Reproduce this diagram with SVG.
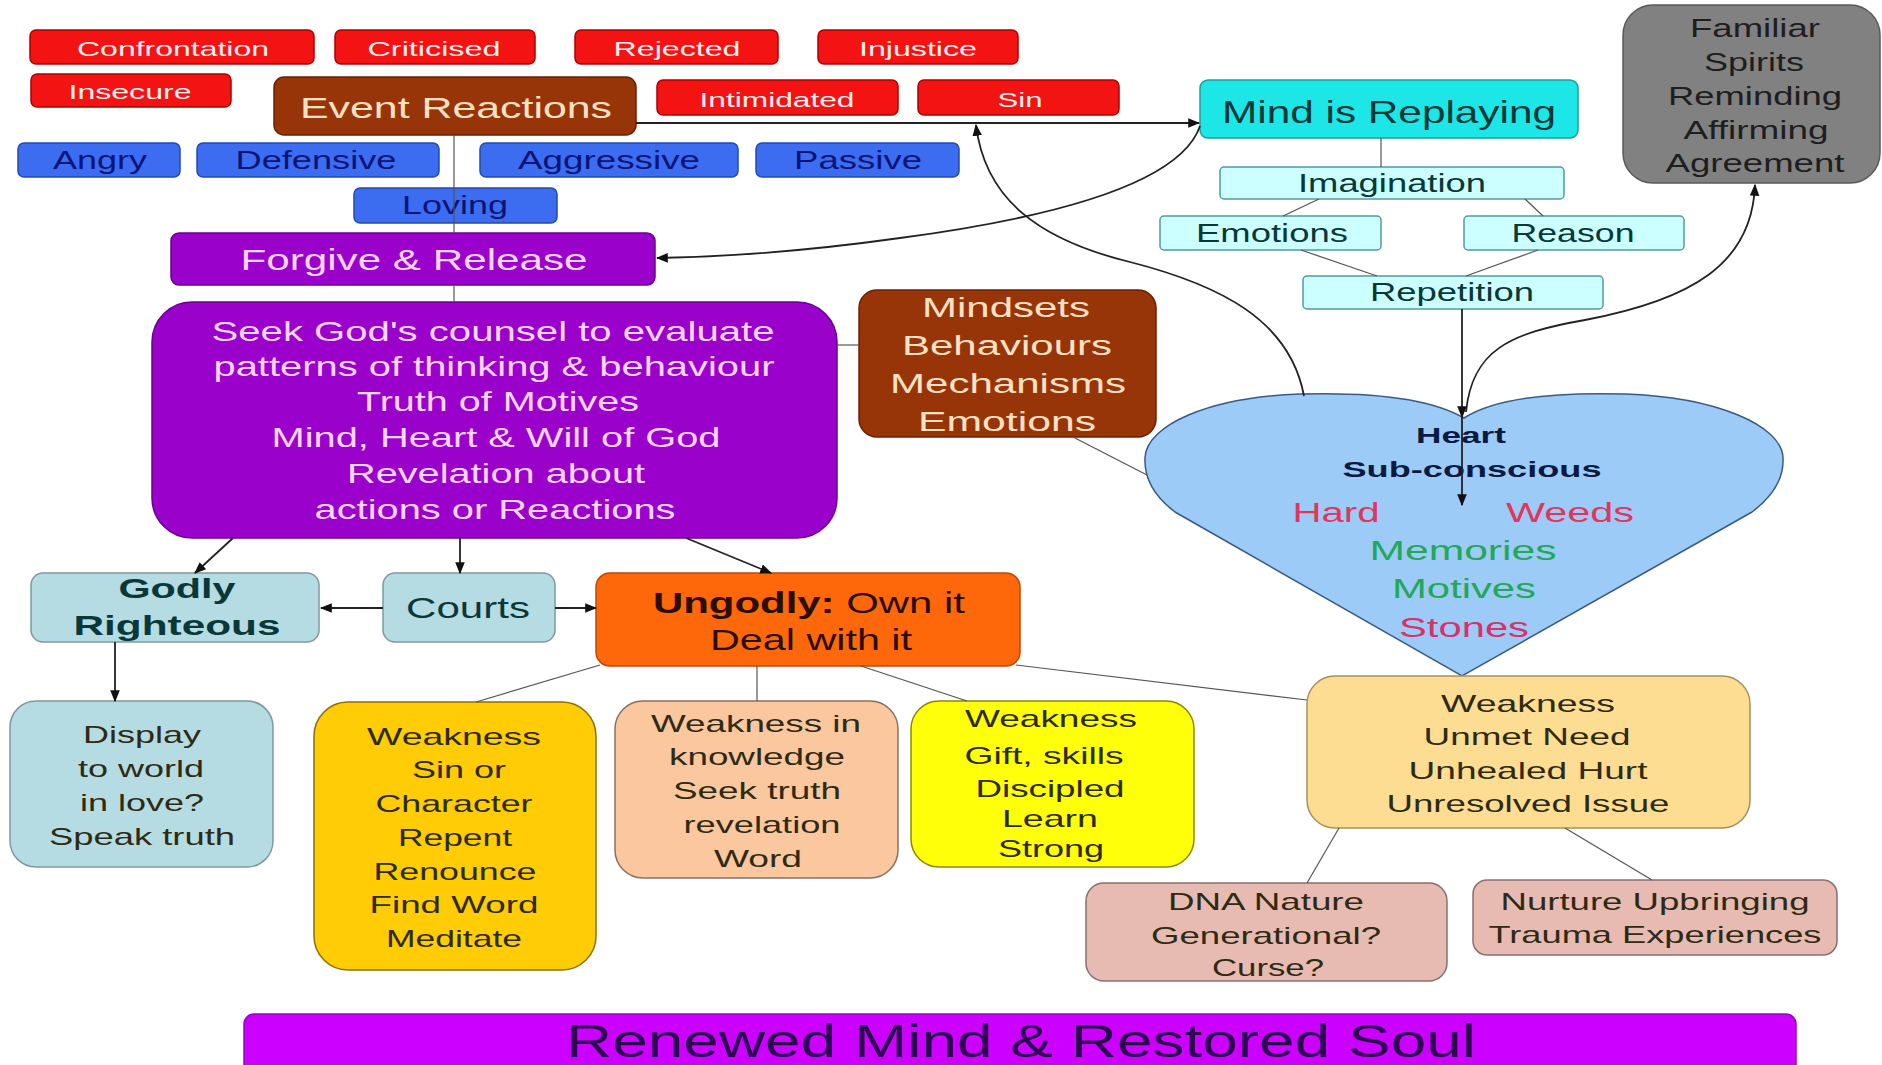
<svg xmlns="http://www.w3.org/2000/svg" width="1882" height="1065" viewBox="0 0 1882 1065">
<style>
text{font-family:"Liberation Sans",Arial,sans-serif;text-anchor:middle}
.r{fill:#F31313;stroke:#B00000;stroke-width:1.5}
.b{fill:#3C6CF0;stroke:#2448B0;stroke-width:1.5}
.p{fill:#9A02CC;stroke:#6A0090;stroke-width:1.5}
.br{fill:#983508;stroke:#6A2000;stroke-width:1.5}
.cy{fill:#1CE6E6;stroke:#18A0A0;stroke-width:1.5}
.lc{fill:#CCFFFF;stroke:#4F9C9C;stroke-width:1.5}
.gr{fill:#818181;stroke:#5A5A5A;stroke-width:1.5}
.tl{fill:#B5DCE2;stroke:#7E9A9E;stroke-width:1.5}
.or{fill:#FF680A;stroke:#C04800;stroke-width:1.5}
.yo{fill:#FFCC05;stroke:#8A7000;stroke-width:1.5}
.pe{fill:#FAC79E;stroke:#8A7060;stroke-width:1.5}
.ye{fill:#FFFF0A;stroke:#8A8A00;stroke-width:1.5}
.cr{fill:#FDDD92;stroke:#A89060;stroke-width:1.5}
.pk{fill:#E7BBB2;stroke:#8A7070;stroke-width:1.5}
.mg{fill:#CC00FF;stroke:#9900CC;stroke-width:1.5}
.hr{fill:#9CCBF7;stroke:#3A5A80;stroke-width:1.5}
.tw{fill:#FFF0F0;font-size:21px}
.tn{fill:#0A1478;font-size:25px}
.tp{fill:#FFD6FF}
.tpe{fill:#FFE2C6}
.tt{fill:#0A3838}
.td{fill:#2E2A14;font-size:24px}
.tk{fill:#1E1E1E}
.c{fill:none;stroke:#222;stroke-width:1.8}
.ct{fill:none;stroke:#555;stroke-width:1.2}
</style>
<defs>
<marker id="ah" viewBox="0 0 10 10" refX="9" refY="5" markerUnits="userSpaceOnUse" markerWidth="12" markerHeight="12" orient="auto"><path d="M0,1 L10,5 L0,9 z" fill="#111"/></marker>
</defs>

<g id="n-confrontation"><rect class="r" x="30" y="30" width="284" height="34" rx="6"/><text class="tw" x="173" y="56" textLength="192" lengthAdjust="spacingAndGlyphs">Confrontation</text></g>
<g id="n-criticised"><rect class="r" x="335" y="30" width="200" height="34" rx="6"/><text class="tw" x="434" y="56" textLength="133" lengthAdjust="spacingAndGlyphs">Criticised</text></g>
<g id="n-rejected"><rect class="r" x="575" y="30" width="203" height="34" rx="6"/><text class="tw" x="677" y="56" textLength="127" lengthAdjust="spacingAndGlyphs">Rejected</text></g>
<g id="n-injustice"><rect class="r" x="818" y="30" width="200" height="34" rx="6"/><text class="tw" x="918" y="56" textLength="118" lengthAdjust="spacingAndGlyphs">Injustice</text></g>
<g id="n-insecure"><rect class="r" x="31" y="74" width="200" height="33" rx="6"/><text class="tw" x="130" y="99" textLength="123" lengthAdjust="spacingAndGlyphs">Insecure</text></g>
<g id="n-intimidated"><rect class="r" x="657" y="80" width="241" height="35" rx="6"/><text class="tw" x="777" y="107" textLength="155" lengthAdjust="spacingAndGlyphs">Intimidated</text></g>
<g id="n-sin"><rect class="r" x="918" y="80" width="201" height="35" rx="6"/><text class="tw" x="1020" y="107" textLength="45" lengthAdjust="spacingAndGlyphs">Sin</text></g>

<g id="n-event-reactions"><rect class="br" x="274" y="77" width="362" height="58" rx="10"/><text class="tpe" x="456" y="118" font-size="29" textLength="312" lengthAdjust="spacingAndGlyphs">Event Reactions</text></g>

<g id="n-angry"><rect class="b" x="18" y="143" width="162" height="34" rx="6"/><text class="tn" x="100" y="169" textLength="94" lengthAdjust="spacingAndGlyphs">Angry</text></g>
<g id="n-defensive"><rect class="b" x="197" y="143" width="242" height="34" rx="6"/><text class="tn" x="316" y="169" textLength="161" lengthAdjust="spacingAndGlyphs">Defensive</text></g>
<g id="n-aggressive"><rect class="b" x="480" y="143" width="258" height="34" rx="6"/><text class="tn" x="609" y="169" textLength="182" lengthAdjust="spacingAndGlyphs">Aggressive</text></g>
<g id="n-passive"><rect class="b" x="756" y="143" width="203" height="34" rx="6"/><text class="tn" x="858" y="169" textLength="128" lengthAdjust="spacingAndGlyphs">Passive</text></g>
<g id="n-loving"><rect class="b" x="354" y="188" width="203" height="35" rx="6"/><text class="tn" x="455" y="214" textLength="106" lengthAdjust="spacingAndGlyphs">Loving</text></g>

<g id="n-forgive"><rect class="p" x="171" y="233" width="484" height="52" rx="8"/><text class="tp" x="414" y="270" font-size="30" textLength="347" lengthAdjust="spacingAndGlyphs">Forgive &amp; Release</text></g>

<g id="n-seek">
<rect class="p" x="152" y="302" width="685" height="236" rx="40"/>
<g class="tp" font-size="28">
<text x="493" y="341" textLength="563" lengthAdjust="spacingAndGlyphs">Seek God's counsel to evaluate</text>
<text x="494" y="376" textLength="561" lengthAdjust="spacingAndGlyphs">patterns of thinking &amp; behaviour</text>
<text x="498" y="411" textLength="282" lengthAdjust="spacingAndGlyphs">Truth of Motives</text>
<text x="496" y="447" textLength="449" lengthAdjust="spacingAndGlyphs">Mind, Heart &amp; Will of God</text>
<text x="496" y="483" textLength="298" lengthAdjust="spacingAndGlyphs">Revelation about</text>
<text x="495" y="519" textLength="361" lengthAdjust="spacingAndGlyphs">actions or Reactions</text>
</g>
</g>

<g id="n-mindsets">
<rect class="br" x="859" y="290" width="297" height="147" rx="18"/>
<g class="tpe" font-size="27">
<text x="1006" y="317" textLength="168" lengthAdjust="spacingAndGlyphs">Mindsets</text>
<text x="1007" y="355" textLength="210" lengthAdjust="spacingAndGlyphs">Behaviours</text>
<text x="1008" y="393" textLength="236" lengthAdjust="spacingAndGlyphs">Mechanisms</text>
<text x="1007" y="431" textLength="178" lengthAdjust="spacingAndGlyphs">Emotions</text>
</g>
</g>

<g id="n-mind-replaying"><rect class="cy" x="1200" y="80" width="378" height="58" rx="8"/><text class="tt" x="1389" y="123" font-size="32" textLength="334" lengthAdjust="spacingAndGlyphs">Mind is Replaying</text></g>
<g id="n-imagination"><rect class="lc" x="1220" y="167" width="344" height="32" rx="4"/><text class="tt" x="1392" y="192" font-size="25" textLength="188" lengthAdjust="spacingAndGlyphs">Imagination</text></g>
<g id="n-emotions"><rect class="lc" x="1160" y="216" width="221" height="34" rx="4"/><text class="tt" x="1272" y="242" font-size="25" textLength="152" lengthAdjust="spacingAndGlyphs">Emotions</text></g>
<g id="n-reason"><rect class="lc" x="1464" y="216" width="220" height="34" rx="4"/><text class="tt" x="1573" y="242" font-size="25" textLength="123" lengthAdjust="spacingAndGlyphs">Reason</text></g>
<g id="n-repetition"><rect class="lc" x="1303" y="276" width="300" height="33" rx="4"/><text class="tt" x="1452" y="301" font-size="25" textLength="164" lengthAdjust="spacingAndGlyphs">Repetition</text></g>

<g id="n-familiar">
<rect class="gr" x="1623" y="5" width="257" height="178" rx="30"/>
<g class="tk" font-size="25">
<text x="1755" y="37" textLength="130" lengthAdjust="spacingAndGlyphs">Familiar</text>
<text x="1754" y="71" textLength="100" lengthAdjust="spacingAndGlyphs">Spirits</text>
<text x="1755" y="105" textLength="174" lengthAdjust="spacingAndGlyphs">Reminding</text>
<text x="1756" y="139" textLength="145" lengthAdjust="spacingAndGlyphs">Affirming</text>
<text x="1755" y="172" textLength="179" lengthAdjust="spacingAndGlyphs">Agreement</text>
</g>
</g>

<g id="n-heart">
<path class="hr" d="M1464,418 C1430,398 1370,392 1300,394 C1210,397 1146,425 1145,458 C1144,480 1155,497 1175,512 L1462,676 L1752,512 C1772,497 1784,480 1783,458 C1782,425 1715,397 1625,394 C1555,392 1495,398 1464,418 Z"/>
<g font-weight="bold" font-size="22" fill="#0A1A40">
<text x="1461" y="443" textLength="90" lengthAdjust="spacingAndGlyphs">Heart</text>
<text x="1472" y="477" textLength="259" lengthAdjust="spacingAndGlyphs">Sub-conscious</text>
</g>
<g font-size="27">
<text x="1336" y="522" fill="#E2355E" textLength="87" lengthAdjust="spacingAndGlyphs">Hard</text>
<text x="1570" y="522" fill="#E2355E" textLength="128" lengthAdjust="spacingAndGlyphs">Weeds</text>
<text x="1463" y="560" fill="#22A857" textLength="187" lengthAdjust="spacingAndGlyphs">Memories</text>
<text x="1464" y="598" fill="#22A857" textLength="144" lengthAdjust="spacingAndGlyphs">Motives</text>
<text x="1464" y="637" fill="#D8306A" textLength="130" lengthAdjust="spacingAndGlyphs">Stones</text>
</g>
</g>

<g id="n-godly"><rect class="tl" x="31" y="573" width="288" height="69" rx="12"/>
<g class="tt" font-size="28" font-weight="bold"><text x="177" y="598" textLength="117" lengthAdjust="spacingAndGlyphs">Godly</text><text x="177" y="635" textLength="207" lengthAdjust="spacingAndGlyphs">Righteous</text></g></g>
<g id="n-courts"><rect class="tl" x="383" y="573" width="172" height="69" rx="12"/><text class="tt" x="468" y="618" font-size="29" textLength="124" lengthAdjust="spacingAndGlyphs">Courts</text></g>
<g id="n-ungodly"><rect class="or" x="596" y="573" width="424" height="93" rx="14"/>
<g fill="#2A0E00" font-size="29">
<text x="809" y="613" textLength="312" lengthAdjust="spacingAndGlyphs"><tspan font-weight="bold">Ungodly:</tspan> Own it</text>
<text x="811" y="650" textLength="202" lengthAdjust="spacingAndGlyphs">Deal with it</text>
</g></g>

<g id="n-display"><rect class="tl" x="10" y="701" width="263" height="166" rx="26"/>
<g class="td">
<text x="142" y="743" textLength="118" lengthAdjust="spacingAndGlyphs">Display</text>
<text x="141" y="777" textLength="126" lengthAdjust="spacingAndGlyphs">to world</text>
<text x="142" y="811" textLength="124" lengthAdjust="spacingAndGlyphs">in love?</text>
<text x="142" y="845" textLength="186" lengthAdjust="spacingAndGlyphs">Speak truth</text>
</g></g>

<g id="n-weakness-sin"><rect class="yo" x="314" y="702" width="282" height="268" rx="34"/>
<g class="td">
<text x="454" y="745" textLength="174" lengthAdjust="spacingAndGlyphs">Weakness</text>
<text x="459" y="778" textLength="94" lengthAdjust="spacingAndGlyphs">Sin or</text>
<text x="454" y="812" textLength="157" lengthAdjust="spacingAndGlyphs">Character</text>
<text x="455" y="846" textLength="114" lengthAdjust="spacingAndGlyphs">Repent</text>
<text x="455" y="880" textLength="163" lengthAdjust="spacingAndGlyphs">Renounce</text>
<text x="454" y="913" textLength="169" lengthAdjust="spacingAndGlyphs">Find Word</text>
<text x="454" y="947" textLength="136" lengthAdjust="spacingAndGlyphs">Meditate</text>
</g></g>

<g id="n-weakness-knowledge"><rect class="pe" x="615" y="701" width="283" height="177" rx="28"/>
<g class="td">
<text x="756" y="732" textLength="210" lengthAdjust="spacingAndGlyphs">Weakness in</text>
<text x="757" y="765" textLength="176" lengthAdjust="spacingAndGlyphs">knowledge</text>
<text x="757" y="799" textLength="168" lengthAdjust="spacingAndGlyphs">Seek truth</text>
<text x="762" y="833" textLength="157" lengthAdjust="spacingAndGlyphs">revelation</text>
<text x="758" y="867" textLength="88" lengthAdjust="spacingAndGlyphs">Word</text>
</g></g>

<g id="n-weakness-gift"><rect class="ye" x="911" y="701" width="283" height="166" rx="28"/>
<g class="td">
<text x="1051" y="727" textLength="172" lengthAdjust="spacingAndGlyphs">Weakness</text>
<text x="1044" y="764" textLength="159" lengthAdjust="spacingAndGlyphs">Gift, skills</text>
<text x="1050" y="797" textLength="149" lengthAdjust="spacingAndGlyphs">Discipled</text>
<text x="1050" y="827" textLength="96" lengthAdjust="spacingAndGlyphs">Learn</text>
<text x="1051" y="857" textLength="106" lengthAdjust="spacingAndGlyphs">Strong</text>
</g></g>

<g id="n-weakness-unmet"><rect class="cr" x="1307" y="676" width="443" height="152" rx="28"/>
<g class="td">
<text x="1528" y="712" textLength="174" lengthAdjust="spacingAndGlyphs">Weakness</text>
<text x="1527" y="745" textLength="207" lengthAdjust="spacingAndGlyphs">Unmet Need</text>
<text x="1528" y="779" textLength="239" lengthAdjust="spacingAndGlyphs">Unhealed Hurt</text>
<text x="1528" y="812" textLength="283" lengthAdjust="spacingAndGlyphs">Unresolved Issue</text>
</g></g>

<g id="n-dna"><rect class="pk" x="1086" y="883" width="361" height="98" rx="18"/>
<g class="td">
<text x="1266" y="910" textLength="196" lengthAdjust="spacingAndGlyphs">DNA Nature</text>
<text x="1266" y="944" textLength="230" lengthAdjust="spacingAndGlyphs">Generational?</text>
<text x="1268" y="976" textLength="112" lengthAdjust="spacingAndGlyphs">Curse?</text>
</g></g>

<g id="n-nurture"><rect class="pk" x="1473" y="880" width="364" height="75" rx="14"/>
<g class="td">
<text x="1655" y="910" textLength="309" lengthAdjust="spacingAndGlyphs">Nurture Upbringing</text>
<text x="1655" y="943" textLength="333" lengthAdjust="spacingAndGlyphs">Trauma Experiences</text>
</g></g>

<g id="n-renewed"><rect class="mg" x="244" y="1014" width="1552" height="70" rx="10"/><text x="1021" y="1057" font-size="47" fill="#2B0850" textLength="910" lengthAdjust="spacingAndGlyphs">Renewed Mind &amp; Restored Soul</text></g>

<g id="connectors">
<path class="c" d="M636,123 H1199" marker-end="url(#ah)"/>
<path class="c" d="M1200,126 C1180,185 1050,218 900,238 C800,252 720,257 657,258" marker-end="url(#ah)"/>
<path class="c" d="M1304,396 C1290,320 1220,285 1130,262 C1040,240 985,200 976,125" marker-end="url(#ah)"/>
<path class="c" d="M1466,412 C1472,350 1510,333 1585,320 C1690,300 1752,265 1755,185" marker-end="url(#ah)"/>
<path class="ct" d="M1381,138 V167"/>
<path class="ct" d="M1319,199 L1283,216"/>
<path class="ct" d="M1525,199 L1543,216"/>
<path class="ct" d="M1301,250 L1377,276"/>
<path class="ct" d="M1538,250 L1466,276"/>
<path class="c" d="M1462,309 V417" marker-end="url(#ah)"/>
<path class="c" d="M1462,417 V505" marker-end="url(#ah)"/>
<path class="ct" d="M454,135 V233"/>
<path class="ct" d="M454,285 V302"/>
<path class="ct" d="M837,345 H859"/>
<path class="ct" d="M1073,437 L1147,475"/>
<path class="c" d="M233,538 L195,573" marker-end="url(#ah)"/>
<path class="c" d="M460,538 V573" marker-end="url(#ah)"/>
<path class="c" d="M686,538 L771,573" marker-end="url(#ah)"/>
<path class="c" d="M383,608 H321" marker-end="url(#ah)"/>
<path class="c" d="M555,608 H596" marker-end="url(#ah)"/>
<path class="c" d="M115,642 V701" marker-end="url(#ah)"/>
<path class="ct" d="M600,665 L476,702"/>
<path class="ct" d="M757,666 V701"/>
<path class="ct" d="M861,666 L967,701"/>
<path class="ct" d="M1016,665 L1307,700"/>
<path class="ct" d="M1339,828 L1307,883"/>
<path class="ct" d="M1565,828 L1652,880"/>
</g>
</svg>
